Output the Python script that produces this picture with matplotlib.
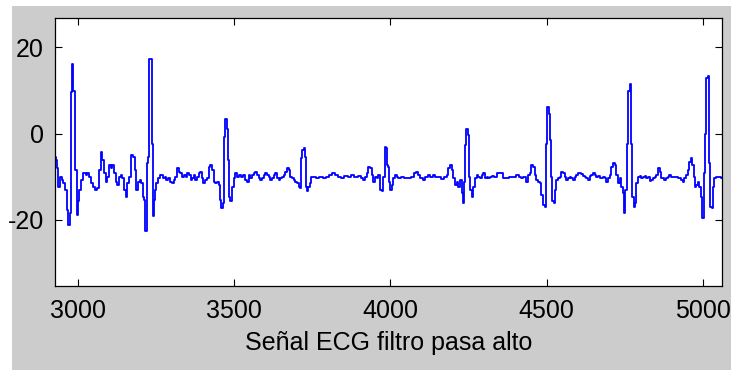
import matplotlib
matplotlib.use("Agg")
import matplotlib.pyplot as plt
from matplotlib.patches import Rectangle

# high-pass filtered ECG, sample index vs amplitude
sample_idx = [
    2928, 2932, 2936, 2940, 2947, 2951, 2957, 2963, 2968, 2972, 2977, 2979, 2984, 2989,
    2996, 2998, 3004, 3008, 3015, 3023, 3029, 3034, 3040, 3047, 3053, 3060, 3066, 3072,
    3076, 3082, 3087, 3092, 3098, 3103, 3108, 3114, 3119, 3124, 3130, 3135, 3140, 3146,
    3151, 3156, 3161, 3167, 3174, 3181, 3185, 3189, 3196, 3202, 3206, 3210, 3215, 3219,
    3223, 3227, 3231, 3236, 3239, 3241, 3246, 3250, 3254, 3260, 3265, 3271, 3275, 3282,
    3286, 3290, 3294, 3299, 3305, 3310, 3316, 3321, 3326, 3332, 3337, 3343, 3348, 3354,
    3358, 3365, 3369, 3374, 3379, 3386, 3390, 3395, 3399, 3403, 3409, 3417, 3422, 3428,
    3433, 3437, 3443, 3450, 3454, 3458, 3462, 3467, 3470, 3475, 3479, 3484, 3486, 3490,
    3496, 3502, 3507, 3512, 3518, 3526, 3534, 3539, 3544, 3550, 3555, 3560, 3566, 3571,
    3576, 3582, 3587, 3592, 3597, 3603, 3608, 3613, 3619, 3624, 3629, 3635, 3640, 3645,
    3651, 3656, 3661, 3667, 3672, 3677, 3683, 3688, 3693, 3698, 3704, 3709, 3712, 3717,
    3721, 3725, 3729, 3732, 3736, 3740, 3744, 3748, 3757, 3768, 3778, 3789, 3799, 3810,
    3819, 3826, 3837, 3847, 3858, 3869, 3879, 3890, 3900, 3911, 3916, 3922, 3927, 3932,
    3938, 3943, 3948, 3954, 3959, 3964, 3970, 3975, 3980, 3983, 3988, 3991, 3994, 3998,
    4001, 4007, 4012, 4017, 4023, 4028, 4039, 4049, 4060, 4071, 4079, 4084, 4092, 4100,
    4108, 4115, 4124, 4132, 4140, 4145, 4156, 4166, 4177, 4182, 4188, 4193, 4198, 4204,
    4209, 4214, 4220, 4225, 4230, 4233, 4238, 4241, 4245, 4249, 4254, 4257, 4262, 4267,
    4273, 4278, 4283, 4289, 4294, 4299, 4305, 4310, 4315, 4321, 4326, 4336, 4347, 4358,
    4363, 4374, 4384, 4395, 4406, 4414, 4422, 4429, 4435, 4443, 4448, 4454, 4459, 4464,
    4470, 4475, 4480, 4485, 4491, 4496, 4499, 4504, 4507, 4510, 4513, 4517, 4519, 4524,
    4528, 4533, 4539, 4544, 4549, 4555, 4560, 4565, 4571, 4576, 4581, 4586, 4592, 4597,
    4602, 4608, 4613, 4618, 4624, 4629, 4634, 4640, 4645, 4650, 4656, 4661, 4666, 4671,
    4677, 4682, 4687, 4693, 4698, 4703, 4709, 4714, 4719, 4725, 4730, 4735, 4741, 4746,
    4749, 4754, 4759, 4762, 4767, 4770, 4776, 4780, 4784, 4788, 4794, 4799, 4804, 4810,
    4815, 4820, 4826, 4831, 4836, 4842, 4847, 4852, 4858, 4863, 4868, 4873, 4879, 4884,
    4889, 4895, 4900, 4905, 4911, 4916, 4921, 4927, 4932, 4937, 4943, 4948, 4953, 4958,
    4964, 4967, 4971, 4976, 4980, 4985, 4990, 4995, 4999, 5003, 5007, 5012, 5016, 5020,
    5024, 5029, 5033, 5037, 5044, 5054, 5060,
]
amplitude = [
    -5.4, -6.1, -8.0, -12.3, -10.0, -10.7, -11.5, -13.0, -17.6, -21.1, -18.4, 9.6, 16.2, 10.0,
    -8.4, -18.8, -15.7, -13.0, -10.7, -9.2, -9.6, -9.2, -10.0, -11.5, -12.3, -13.0, -12.6, -8.4,
    -4.2, -6.1, -9.2, -11.1, -10.0, -7.3, -8.0, -7.3, -9.2, -11.1, -11.9, -10.0, -9.6, -10.3,
    -13.0, -14.6, -11.5, -10.0, -5.0, -5.4, -8.4, -13.0, -11.1, -10.7, -11.5, -14.6, -15.3, -22.6,
    -6.9, -5.4, 17.3, 17.3, -2.3, -19.0, -15.3, -13.0, -11.5, -10.3, -9.6, -9.6, -10.3, -10.0,
    -10.7, -10.3, -10.3, -11.1, -11.5, -10.7, -10.0, -8.0, -8.8, -9.2, -10.0, -9.6, -10.0, -9.2,
    -9.6, -10.7, -10.3, -9.6, -10.7, -10.0, -9.2, -8.8, -10.3, -11.5, -10.7, -10.3, -7.7, -7.3,
    -8.4, -11.1, -11.5, -11.1, -11.9, -15.3, -17.2, -16.1, -0.8, 3.4, 1.1, -6.1, -14.6, -15.7,
    -12.3, -10.3, -9.2, -10.0, -9.6, -10.0, -9.6, -10.7, -11.1, -9.6, -10.3, -9.6, -9.2, -8.8,
    -9.6, -10.3, -10.7, -10.3, -9.6, -9.2, -9.6, -10.0, -10.7, -10.3, -9.6, -9.2, -10.3, -10.7,
    -10.3, -10.0, -9.6, -8.8, -8.0, -8.4, -10.0, -10.3, -10.7, -11.1, -11.5, -12.3, -12.6, -5.7,
    -3.8, -3.4, -5.4, -12.3, -13.4, -12.3, -11.5, -10.0, -10.0, -10.3, -10.0, -10.3, -10.0, -9.6,
    -9.2, -9.6, -10.0, -10.3, -9.8, -10.0, -9.6, -10.0, -9.8, -10.3, -10.7, -10.0, -9.2, -7.7,
    -8.0, -9.6, -11.1, -10.0, -10.3, -9.6, -13.0, -13.4, -10.0, -3.1, -3.4, -7.3, -7.7, -11.1,
    -13.0, -11.9, -10.3, -9.6, -10.0, -10.3, -10.0, -10.3, -10.3, -10.0, -9.2, -8.8, -9.6, -10.3,
    -10.7, -10.0, -9.6, -10.0, -9.6, -10.0, -10.1, -10.6, -10.0, -9.6, -8.0, -7.3, -8.4, -10.3,
    -11.9, -11.1, -12.3, -10.7, -13.8, -16.1, -11.1, -2.7, 1.1, -0.4, -10.0, -13.0, -14.6, -12.3,
    -10.3, -9.6, -10.0, -10.3, -9.6, -9.2, -10.3, -10.0, -10.3, -10.0, -9.8, -10.0, -9.2, -9.2,
    -10.3, -10.3, -10.0, -10.0, -9.6, -10.0, -10.3, -10.0, -11.1, -9.6, -9.2, -7.3, -7.7, -9.6,
    -10.7, -11.1, -11.5, -14.2, -16.5, -16.9, -2.3, 6.1, 5.7, 4.6, -1.5, -10.0, -15.7, -16.1,
    -13.0, -10.7, -10.3, -10.0, -8.8, -9.2, -10.0, -10.7, -10.3, -10.0, -10.3, -10.7, -10.0, -9.6,
    -9.2, -9.2, -9.4, -9.8, -10.0, -10.3, -10.7, -9.8, -9.6, -9.2, -9.6, -10.0, -9.8, -10.3,
    -10.3, -10.0, -10.3, -11.1, -10.3, -9.6, -7.7, -6.9, -7.3, -9.6, -11.5, -10.3, -12.3, -13.8,
    -18.4, -13.0, -2.3, 10.0, 11.5, -2.3, -14.6, -16.9, -16.1, -11.5, -10.0, -9.8, -10.3, -10.0,
    -9.8, -10.3, -10.1, -10.9, -10.7, -10.3, -10.0, -9.6, -8.0, -8.8, -10.3, -10.3, -10.7, -10.3,
    -10.0, -9.6, -10.0, -10.1, -10.0, -10.1, -10.3, -10.3, -10.7, -11.1, -10.3, -9.6, -8.4, -6.5,
    -5.7, -7.3, -10.0, -12.3, -11.9, -11.1, -12.3, -14.6, -19.5, -9.2, 0.0, 13.0, 13.4, -6.9,
    -16.9, -17.2, -12.3, -10.3, -10.0, -10.0, -10.3,
]
x_ticks = [3000, 3500, 4000, 4500, 5000]
y_ticks = [-20, 0, 20]
x_label = "Señal ECG filtro pasa alto"

plt.rcParams['font.family'] = ['Liberation Sans', 'DejaVu Sans']
plt.rcParams['axes.unicode_minus'] = False

W, H = 731, 370
fig = plt.figure(figsize=(W / 100, H / 100), dpi=100, facecolor='white')
# grey window area, leaving a thin white strip on the left and top
fig.patches.append(Rectangle((12 / W, 0), 1 - 12 / W, 1 - 6 / H,
                             transform=fig.transFigure, facecolor='#cccccc',
                             edgecolor='none', zorder=-1))

ax = fig.add_axes([55 / W, (H - 286) / H, (722 - 55) / W, (286 - 18) / H])
ax.set_facecolor('white')
ax.plot(sample_idx, amplitude, color='#0000ff', lw=1.3, drawstyle='steps-mid')

ax.set_xlim(2928, 5060)
ax.set_ylim(-35.3, 26.8)
ax.set_xticks(x_ticks)
ax.set_yticks(y_ticks)
ax.tick_params(direction='in', length=5, width=0.8, top=True, right=True,
               labelsize=18, colors='black')
ax.tick_params(axis='x', pad=9)
ax.tick_params(axis='y', pad=8)
for s in ax.spines.values():
    s.set_linewidth(0.9)
    s.set_color('black')
ax.set_xlabel(x_label, fontsize=18, labelpad=6)

fig.savefig("out.png", dpi=100, facecolor=fig.get_facecolor())
